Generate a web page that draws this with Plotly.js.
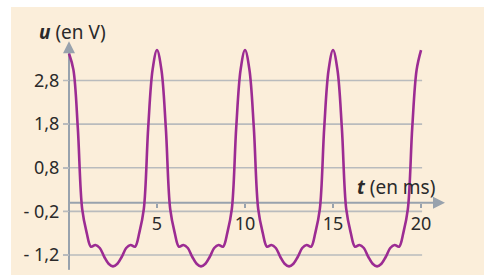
<!DOCTYPE html>
<html><head><meta charset="utf-8">
<script src="https://cdn.plot.ly/plotly-3.0.1.min.js"></script>
<style>
html,body{margin:0;padding:0;background:#fff;width:484px;height:275px;overflow:hidden}
#chart{position:absolute;left:11px;top:7px;width:473px;height:268px}
</style></head><body><div id="chart"></div>
<script>
// time (ms)
const timeMs = [
  0, 0.25, 0.5, 0.75, 1, 1.25, 1.5, 1.75, 2, 2.25, 2.5, 2.75, 3, 3.25, 3.5, 3.75, 4, 4.25, 4.5, 4.75,
  5, 5.25, 5.5, 5.75, 6, 6.25, 6.5, 6.75, 7, 7.25, 7.5, 7.75, 8, 8.25, 8.5, 8.75, 9, 9.25, 9.5, 9.75,
  10, 10.25, 10.5, 10.75, 11, 11.25, 11.5, 11.75, 12, 12.25, 12.5, 12.75, 13, 13.25, 13.5, 13.75, 14, 14.25, 14.5, 14.75,
  15, 15.25, 15.5, 15.75, 16, 16.25, 16.5, 16.75, 17, 17.25, 17.5, 17.75, 18, 18.25, 18.5, 18.75, 19, 19.25, 19.5, 19.75,
  20
];
// voltage u (V)
const voltageV = [
  3.42, 3.05, 1.72, -0.15, -0.68, -1.01, -0.97, -1.04, -1.24, -1.40, -1.46, -1.40, -1.24, -1.04, -0.97, -1.01, -0.68, -0.15, 1.72, 3.05,
  3.5, 3.05, 1.72, -0.15, -0.68, -1.01, -0.97, -1.04, -1.24, -1.40, -1.46, -1.40, -1.24, -1.04, -0.97, -1.01, -0.68, -0.15, 1.72, 3.05,
  3.5, 3.05, 1.72, -0.15, -0.68, -1.01, -0.97, -1.04, -1.24, -1.40, -1.46, -1.40, -1.24, -1.04, -0.97, -1.01, -0.68, -0.15, 1.72, 3.05,
  3.5, 3.05, 1.72, -0.15, -0.68, -1.01, -0.97, -1.04, -1.24, -1.40, -1.46, -1.40, -1.24, -1.04, -0.97, -1.01, -0.68, -0.15, 1.72, 3.05,
  3.5
];
const yTickVals = [-1.2, -0.2, 0.8, 1.8, 2.8];
const yTickText = ['- 1,2', '- 0,2', '0,8', '1,8', '2,8'];
const xTickVals = [5, 10, 15, 20];
const xTickText = ['5', '10', '15', '20'];

const xRange = [-1.59, 22.44];
const yRange = [-1.544, 3.73];
const gridCol = '#b9bbbd';
const axisCol = '#98a2ad';
const textCol = '#2a2a2a';
const FONT = 'Noto Sans, Open Sans, DejaVu Sans, sans-serif';

const shapes = yTickVals.map(v => ({
  type: 'line', xref: 'x', yref: 'y', x0: -0.34, x1: 20.06, y0: v, y1: v,
  line: {color: gridCol, width: 1.6}, layer: 'below'
}));
// axes lines
shapes.push({type: 'line', xref: 'x', yref: 'y', x0: 0, x1: 21.0, y0: 0, y1: 0,
  line: {color: axisCol, width: 2}, layer: 'below'});
shapes.push({type: 'line', xref: 'x', yref: 'y', x0: 0, x1: 0, y0: -1.54, y1: 3.55,
  line: {color: axisCol, width: 2}, layer: 'below'});

const annotations = [
  {xref: 'x', yref: 'y', x: 21.36, y: 0, ax: -12, ay: 0, text: '', showarrow: true,
   arrowhead: 2, arrowsize: 1.2, arrowwidth: 2, arrowcolor: axisCol},
  {xref: 'x', yref: 'y', x: 0, y: 3.70, ax: 0, ay: 12, text: '', showarrow: true,
   arrowhead: 2, arrowsize: 1.2, arrowwidth: 2, arrowcolor: axisCol},
  {xref: 'paper', yref: 'paper', x: 0.0733, y: 1.0348, text: '<b><i>u</i></b> (en V)',
   showarrow: false, xanchor: 'center', yanchor: 'middle', font: {size: 19, color: textCol, family: FONT}},
  {xref: 'x', yref: 'y', x: 18.55, y: 0.364, text: '<b><i>t</i></b> (en ms)',
   showarrow: false, xanchor: 'center', yanchor: 'middle', font: {size: 19, color: textCol, family: FONT}}
];

const trace = {
  x: timeMs, y: voltageV, type: 'scatter', mode: 'lines',
  line: {color: '#9c2c93', width: 2.6, shape: 'spline', smoothing: 1},
  hoverinfo: 'skip'
};

const layout = {
  width: 473, height: 268,
  margin: {l: 30, r: 20, t: 33, b: 5, pad: 0},
  paper_bgcolor: '#fbeeda', plot_bgcolor: 'rgba(0,0,0,0)',
  showlegend: false,
  font: {family: FONT, size: 18, color: textCol},
  xaxis: {
    range: xRange, showgrid: false, zeroline: false, showline: false,
    ticks: 'outside', ticklen: 4, tickwidth: 1.5, tickcolor: axisCol,
    tickvals: xTickVals, ticktext: xTickText,
    tickfont: {size: 18, color: textCol, family: FONT},
    anchor: 'free', position: (0 - yRange[0]) / (yRange[1] - yRange[0]),
    ticklabelstandoff: 1, fixedrange: true
  },
  yaxis: {
    range: yRange, showgrid: false, zeroline: false, showline: false,
    ticks: 'outside', ticklen: 6, tickwidth: 1.6, tickcolor: gridCol,
    tickvals: yTickVals, ticktext: yTickText,
    tickfont: {size: 18, color: textCol, family: FONT},
    anchor: 'free', position: (0 - xRange[0]) / (xRange[1] - xRange[0]),
    fixedrange: true
  },
  shapes: shapes,
  annotations: annotations
};

Plotly.newPlot('chart', [trace], layout, {staticPlot: true, displayModeBar: false});
</script></body></html>
